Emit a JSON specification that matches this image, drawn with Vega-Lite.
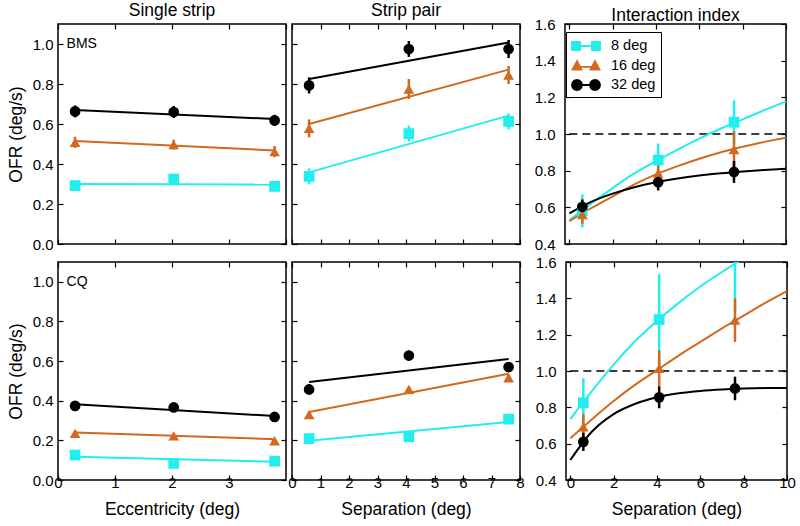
{
  "$schema": "https://vega.github.io/schema/vega-lite/v6.json",
  "padding": {"left": 6, "top": 1, "right": 5, "bottom": 5},
  "datasets": {
    "pts": [
      {"s":"BMS","p":"single","g":"8 deg","x":0.3,"y":0.292,"lo":0.272,"hi":0.312},
      {"s":"BMS","p":"single","g":"8 deg","x":2.03,"y":0.325,"lo":0.305,"hi":0.345},
      {"s":"BMS","p":"single","g":"8 deg","x":3.8,"y":0.288,"lo":0.268,"hi":0.308},
      {"s":"BMS","p":"single","g":"16 deg","x":0.3,"y":0.508,"lo":0.48,"hi":0.536},
      {"s":"BMS","p":"single","g":"16 deg","x":2.03,"y":0.497,"lo":0.472,"hi":0.522},
      {"s":"BMS","p":"single","g":"16 deg","x":3.8,"y":0.462,"lo":0.434,"hi":0.49},
      {"s":"BMS","p":"single","g":"32 deg","x":0.3,"y":0.663,"lo":0.633,"hi":0.693},
      {"s":"BMS","p":"single","g":"32 deg","x":2.03,"y":0.66,"lo":0.63,"hi":0.69},
      {"s":"BMS","p":"single","g":"32 deg","x":3.8,"y":0.618,"lo":0.59,"hi":0.646},
      {"s":"BMS","p":"pair","g":"8 deg","x":0.6,"y":0.338,"lo":0.298,"hi":0.378},
      {"s":"BMS","p":"pair","g":"8 deg","x":4.1,"y":0.552,"lo":0.512,"hi":0.592},
      {"s":"BMS","p":"pair","g":"8 deg","x":7.6,"y":0.613,"lo":0.573,"hi":0.653},
      {"s":"BMS","p":"pair","g":"16 deg","x":0.6,"y":0.578,"lo":0.533,"hi":0.623},
      {"s":"BMS","p":"pair","g":"16 deg","x":4.1,"y":0.775,"lo":0.725,"hi":0.825},
      {"s":"BMS","p":"pair","g":"16 deg","x":7.6,"y":0.845,"lo":0.8,"hi":0.89},
      {"s":"BMS","p":"pair","g":"32 deg","x":0.6,"y":0.793,"lo":0.753,"hi":0.833},
      {"s":"BMS","p":"pair","g":"32 deg","x":4.1,"y":0.975,"lo":0.935,"hi":1.015},
      {"s":"BMS","p":"pair","g":"32 deg","x":7.6,"y":0.975,"lo":0.93,"hi":1.02},
      {"s":"BMS","p":"index","g":"8 deg","x":0.6,"y":0.58,"lo":0.49,"hi":0.67},
      {"s":"BMS","p":"index","g":"8 deg","x":4.1,"y":0.858,"lo":0.768,"hi":0.948},
      {"s":"BMS","p":"index","g":"8 deg","x":7.6,"y":1.064,"lo":0.944,"hi":1.184},
      {"s":"BMS","p":"index","g":"16 deg","x":0.6,"y":0.56,"lo":0.51,"hi":0.61},
      {"s":"BMS","p":"index","g":"16 deg","x":4.1,"y":0.787,"lo":0.727,"hi":0.847},
      {"s":"BMS","p":"index","g":"16 deg","x":7.6,"y":0.915,"lo":0.815,"hi":1.015},
      {"s":"BMS","p":"index","g":"32 deg","x":0.6,"y":0.603,"lo":0.563,"hi":0.643},
      {"s":"BMS","p":"index","g":"32 deg","x":4.1,"y":0.737,"lo":0.692,"hi":0.782},
      {"s":"BMS","p":"index","g":"32 deg","x":7.6,"y":0.793,"lo":0.733,"hi":0.853},
      {"s":"CQ","p":"single","g":"8 deg","x":0.3,"y":0.126,"lo":0.114,"hi":0.138},
      {"s":"CQ","p":"single","g":"8 deg","x":2.03,"y":0.084,"lo":0.072,"hi":0.096},
      {"s":"CQ","p":"single","g":"8 deg","x":3.8,"y":0.095,"lo":0.083,"hi":0.107},
      {"s":"CQ","p":"single","g":"16 deg","x":0.3,"y":0.235,"lo":0.223,"hi":0.247},
      {"s":"CQ","p":"single","g":"16 deg","x":2.03,"y":0.223,"lo":0.211,"hi":0.235},
      {"s":"CQ","p":"single","g":"16 deg","x":3.8,"y":0.198,"lo":0.186,"hi":0.21},
      {"s":"CQ","p":"single","g":"32 deg","x":0.3,"y":0.374,"lo":0.362,"hi":0.386},
      {"s":"CQ","p":"single","g":"32 deg","x":2.03,"y":0.366,"lo":0.354,"hi":0.378},
      {"s":"CQ","p":"single","g":"32 deg","x":3.8,"y":0.318,"lo":0.306,"hi":0.33},
      {"s":"CQ","p":"pair","g":"8 deg","x":0.6,"y":0.209,"lo":0.194,"hi":0.224},
      {"s":"CQ","p":"pair","g":"8 deg","x":4.1,"y":0.218,"lo":0.198,"hi":0.238},
      {"s":"CQ","p":"pair","g":"8 deg","x":7.6,"y":0.307,"lo":0.292,"hi":0.322},
      {"s":"CQ","p":"pair","g":"16 deg","x":0.6,"y":0.33,"lo":0.315,"hi":0.345},
      {"s":"CQ","p":"pair","g":"16 deg","x":4.1,"y":0.457,"lo":0.442,"hi":0.472},
      {"s":"CQ","p":"pair","g":"16 deg","x":7.6,"y":0.516,"lo":0.501,"hi":0.531},
      {"s":"CQ","p":"pair","g":"32 deg","x":0.6,"y":0.457,"lo":0.432,"hi":0.482},
      {"s":"CQ","p":"pair","g":"32 deg","x":4.1,"y":0.628,"lo":0.603,"hi":0.653},
      {"s":"CQ","p":"pair","g":"32 deg","x":7.6,"y":0.57,"lo":0.545,"hi":0.595},
      {"s":"CQ","p":"index","g":"8 deg","x":0.6,"y":0.825,"lo":0.69,"hi":0.96},
      {"s":"CQ","p":"index","g":"8 deg","x":4.1,"y":1.283,"lo":1.033,"hi":1.533},
      {"s":"CQ","p":"index","g":"8 deg","x":7.6,"y":1.63,"lo":1.33,"hi":1.93},
      {"s":"CQ","p":"index","g":"16 deg","x":0.6,"y":0.693,"lo":0.623,"hi":0.763},
      {"s":"CQ","p":"index","g":"16 deg","x":4.1,"y":1.014,"lo":0.914,"hi":1.114},
      {"s":"CQ","p":"index","g":"16 deg","x":7.6,"y":1.28,"lo":1.16,"hi":1.4},
      {"s":"CQ","p":"index","g":"32 deg","x":0.6,"y":0.61,"lo":0.56,"hi":0.66},
      {"s":"CQ","p":"index","g":"32 deg","x":4.1,"y":0.855,"lo":0.795,"hi":0.915},
      {"s":"CQ","p":"index","g":"32 deg","x":7.6,"y":0.904,"lo":0.839,"hi":0.969}
    ],
    "fits": [
      {"s":"BMS","p":"single","g":"8 deg","x":0.3,"y":0.3},
      {"s":"BMS","p":"single","g":"8 deg","x":3.8,"y":0.297},
      {"s":"BMS","p":"single","g":"16 deg","x":0.3,"y":0.515},
      {"s":"BMS","p":"single","g":"16 deg","x":3.8,"y":0.468},
      {"s":"BMS","p":"single","g":"32 deg","x":0.3,"y":0.67},
      {"s":"BMS","p":"single","g":"32 deg","x":3.8,"y":0.625},
      {"s":"BMS","p":"pair","g":"8 deg","x":0.6,"y":0.358},
      {"s":"BMS","p":"pair","g":"8 deg","x":7.6,"y":0.642},
      {"s":"BMS","p":"pair","g":"16 deg","x":0.6,"y":0.6},
      {"s":"BMS","p":"pair","g":"16 deg","x":7.6,"y":0.872},
      {"s":"BMS","p":"pair","g":"32 deg","x":0.6,"y":0.825},
      {"s":"BMS","p":"pair","g":"32 deg","x":7.6,"y":1.008},
      {"s":"CQ","p":"single","g":"8 deg","x":0.3,"y":0.117},
      {"s":"CQ","p":"single","g":"8 deg","x":3.8,"y":0.092},
      {"s":"CQ","p":"single","g":"16 deg","x":0.3,"y":0.24},
      {"s":"CQ","p":"single","g":"16 deg","x":3.8,"y":0.206},
      {"s":"CQ","p":"single","g":"32 deg","x":0.3,"y":0.382},
      {"s":"CQ","p":"single","g":"32 deg","x":3.8,"y":0.323},
      {"s":"CQ","p":"pair","g":"8 deg","x":0.6,"y":0.198},
      {"s":"CQ","p":"pair","g":"8 deg","x":7.6,"y":0.293},
      {"s":"CQ","p":"pair","g":"16 deg","x":0.6,"y":0.343},
      {"s":"CQ","p":"pair","g":"16 deg","x":7.6,"y":0.536},
      {"s":"CQ","p":"pair","g":"32 deg","x":0.6,"y":0.494},
      {"s":"CQ","p":"pair","g":"32 deg","x":7.6,"y":0.611},
      {"s":"BMS","p":"index","g":"8 deg","x":0,"y":0.53},
      {"s":"BMS","p":"index","g":"8 deg","x":1,"y":0.62},
      {"s":"BMS","p":"index","g":"8 deg","x":2,"y":0.705},
      {"s":"BMS","p":"index","g":"8 deg","x":3,"y":0.785},
      {"s":"BMS","p":"index","g":"8 deg","x":4,"y":0.852},
      {"s":"BMS","p":"index","g":"8 deg","x":5,"y":0.915},
      {"s":"BMS","p":"index","g":"8 deg","x":6,"y":0.975},
      {"s":"BMS","p":"index","g":"8 deg","x":7,"y":1.03},
      {"s":"BMS","p":"index","g":"8 deg","x":8,"y":1.08},
      {"s":"BMS","p":"index","g":"8 deg","x":9,"y":1.13},
      {"s":"BMS","p":"index","g":"8 deg","x":10,"y":1.178},
      {"s":"BMS","p":"index","g":"16 deg","x":0,"y":0.525},
      {"s":"BMS","p":"index","g":"16 deg","x":1,"y":0.595},
      {"s":"BMS","p":"index","g":"16 deg","x":2,"y":0.66},
      {"s":"BMS","p":"index","g":"16 deg","x":3,"y":0.725},
      {"s":"BMS","p":"index","g":"16 deg","x":4,"y":0.78},
      {"s":"BMS","p":"index","g":"16 deg","x":5,"y":0.825},
      {"s":"BMS","p":"index","g":"16 deg","x":6,"y":0.865},
      {"s":"BMS","p":"index","g":"16 deg","x":7,"y":0.9},
      {"s":"BMS","p":"index","g":"16 deg","x":8,"y":0.93},
      {"s":"BMS","p":"index","g":"16 deg","x":9,"y":0.957},
      {"s":"BMS","p":"index","g":"16 deg","x":10,"y":0.98},
      {"s":"BMS","p":"index","g":"32 deg","x":0,"y":0.567},
      {"s":"BMS","p":"index","g":"32 deg","x":1,"y":0.63},
      {"s":"BMS","p":"index","g":"32 deg","x":2,"y":0.675},
      {"s":"BMS","p":"index","g":"32 deg","x":3,"y":0.71},
      {"s":"BMS","p":"index","g":"32 deg","x":4,"y":0.737},
      {"s":"BMS","p":"index","g":"32 deg","x":5,"y":0.757},
      {"s":"BMS","p":"index","g":"32 deg","x":6,"y":0.773},
      {"s":"BMS","p":"index","g":"32 deg","x":7,"y":0.786},
      {"s":"BMS","p":"index","g":"32 deg","x":8,"y":0.796},
      {"s":"BMS","p":"index","g":"32 deg","x":9,"y":0.804},
      {"s":"BMS","p":"index","g":"32 deg","x":10,"y":0.81},
      {"s":"CQ","p":"index","g":"8 deg","x":0,"y":0.735},
      {"s":"CQ","p":"index","g":"8 deg","x":1,"y":0.89},
      {"s":"CQ","p":"index","g":"8 deg","x":2,"y":1.035},
      {"s":"CQ","p":"index","g":"8 deg","x":3,"y":1.165},
      {"s":"CQ","p":"index","g":"8 deg","x":4,"y":1.275},
      {"s":"CQ","p":"index","g":"8 deg","x":5,"y":1.375},
      {"s":"CQ","p":"index","g":"8 deg","x":6,"y":1.465},
      {"s":"CQ","p":"index","g":"8 deg","x":7,"y":1.545},
      {"s":"CQ","p":"index","g":"8 deg","x":8,"y":1.62},
      {"s":"CQ","p":"index","g":"16 deg","x":0,"y":0.63},
      {"s":"CQ","p":"index","g":"16 deg","x":1,"y":0.735},
      {"s":"CQ","p":"index","g":"16 deg","x":2,"y":0.835},
      {"s":"CQ","p":"index","g":"16 deg","x":3,"y":0.925},
      {"s":"CQ","p":"index","g":"16 deg","x":4,"y":1.005},
      {"s":"CQ","p":"index","g":"16 deg","x":5,"y":1.085},
      {"s":"CQ","p":"index","g":"16 deg","x":6,"y":1.16},
      {"s":"CQ","p":"index","g":"16 deg","x":7,"y":1.235},
      {"s":"CQ","p":"index","g":"16 deg","x":8,"y":1.305},
      {"s":"CQ","p":"index","g":"16 deg","x":9,"y":1.375},
      {"s":"CQ","p":"index","g":"16 deg","x":10,"y":1.44},
      {"s":"CQ","p":"index","g":"32 deg","x":0,"y":0.51},
      {"s":"CQ","p":"index","g":"32 deg","x":1,"y":0.667},
      {"s":"CQ","p":"index","g":"32 deg","x":2,"y":0.763},
      {"s":"CQ","p":"index","g":"32 deg","x":3,"y":0.82},
      {"s":"CQ","p":"index","g":"32 deg","x":4,"y":0.856},
      {"s":"CQ","p":"index","g":"32 deg","x":5,"y":0.877},
      {"s":"CQ","p":"index","g":"32 deg","x":6,"y":0.89},
      {"s":"CQ","p":"index","g":"32 deg","x":7,"y":0.898},
      {"s":"CQ","p":"index","g":"32 deg","x":8,"y":0.903},
      {"s":"CQ","p":"index","g":"32 deg","x":9,"y":0.906},
      {"s":"CQ","p":"index","g":"32 deg","x":10,"y":0.907}
    ]
  },
  "vconcat": [
    {
      "hconcat": [
        {
          "hconcat": [
            {
              "width": 228, "height": 220, "title": "Single strip",
              "layer": [
                {"data": {"name": "fits"}, "transform": [{"filter": "datum.s==='BMS' && datum.p==='single'"}],
                 "mark": {"type": "line", "strokeWidth": 2, "clip": true},
                 "encoding": {
                   "x": {"field": "x", "type": "quantitative", "scale": {"domain": [0, 4], "nice": false, "zero": false}, "axis": {"orient": "bottom", "values": [0,1,2,3,4], "labels": false, "title": null}},
                   "y": {"field": "y", "type": "quantitative", "scale": {"domain": [0, 1.1], "nice": false, "zero": false}, "axis": {"orient": "left", "values": [0,0.2,0.4,0.6,0.8,1], "format": ".1f", "title": "OFR (deg/s)"}},
                   "color": {"field": "g", "type": "nominal", "scale": {"domain": ["8 deg","16 deg","32 deg"], "range": ["#22EEEE","#D2691E","#000000"]}, "legend": null}}},
                {"data": {"name": "pts"}, "transform": [{"filter": "datum.s==='BMS' && datum.p==='single'"}],
                 "mark": {"type": "rule", "strokeWidth": 2.5, "clip": true},
                 "encoding": {
                   "x": {"field": "x", "type": "quantitative", "axis": {"orient": "top", "values": [0,1,2,3,4], "labels": false, "title": null}},
                   "y": {"field": "lo", "type": "quantitative", "axis": {"orient": "right", "values": [0,0.2,0.4,0.6,0.8,1], "labels": false, "title": null}},
                   "y2": {"field": "hi"},
                   "color": {"field": "g", "type": "nominal", "legend": null}}},
                {"data": {"name": "pts"}, "transform": [{"filter": "datum.s==='BMS' && datum.p==='single'"}],
                 "mark": {"type": "point", "filled": true, "opacity": 1, "size": 115, "clip": true},
                 "encoding": {
                   "x": {"field": "x", "type": "quantitative", "axis": null},
                   "y": {"field": "y", "type": "quantitative", "axis": null},
                   "color": {"field": "g", "type": "nominal", "legend": null},
                   "shape": {"field": "g", "type": "nominal", "scale": {"domain": ["8 deg","16 deg","32 deg"], "range": ["square","triangle-up","circle"]}, "legend": null}}},
                {"data": {"values": [{}]},
                 "mark": {"type": "text", "align": "left", "baseline": "middle", "fontSize": 14, "color": "black"},
                 "encoding": {"x": {"datum": 0.15, "type": "quantitative", "axis": null}, "y": {"datum": 1.0, "type": "quantitative", "axis": null}, "text": {"value": "BMS"}}}
              ],
              "resolve": {"axis": {"x": "independent", "y": "independent"}}
            },
            {
              "width": 228, "height": 220, "title": "Strip pair",
              "layer": [
                {"data": {"name": "fits"}, "transform": [{"filter": "datum.s==='BMS' && datum.p==='pair'"}],
                 "mark": {"type": "line", "strokeWidth": 2, "clip": true},
                 "encoding": {
                   "x": {"field": "x", "type": "quantitative", "scale": {"domain": [0, 8], "nice": false, "zero": false}, "axis": {"orient": "bottom", "values": [0,1,2,3,4,5,6,7,8], "labels": false, "title": null}},
                   "y": {"field": "y", "type": "quantitative", "scale": {"domain": [0, 1.1], "nice": false, "zero": false}, "axis": {"orient": "left", "values": [0,0.2,0.4,0.6,0.8,1], "labels": false, "title": null}},
                   "color": {"field": "g", "type": "nominal", "scale": {"domain": ["8 deg","16 deg","32 deg"], "range": ["#22EEEE","#D2691E","#000000"]}, "legend": null}}},
                {"data": {"name": "pts"}, "transform": [{"filter": "datum.s==='BMS' && datum.p==='pair'"}],
                 "mark": {"type": "rule", "strokeWidth": 2.5, "clip": true},
                 "encoding": {
                   "x": {"field": "x", "type": "quantitative", "axis": {"orient": "top", "values": [0,1,2,3,4,5,6,7,8], "labels": false, "title": null}},
                   "y": {"field": "lo", "type": "quantitative", "axis": {"orient": "right", "values": [0,0.2,0.4,0.6,0.8,1], "labels": false, "title": null}},
                   "y2": {"field": "hi"},
                   "color": {"field": "g", "type": "nominal", "legend": null}}},
                {"data": {"name": "pts"}, "transform": [{"filter": "datum.s==='BMS' && datum.p==='pair'"}],
                 "mark": {"type": "point", "filled": true, "opacity": 1, "size": 115, "clip": true},
                 "encoding": {
                   "x": {"field": "x", "type": "quantitative", "axis": null},
                   "y": {"field": "y", "type": "quantitative", "axis": null},
                   "color": {"field": "g", "type": "nominal", "legend": null},
                   "shape": {"field": "g", "type": "nominal", "scale": {"domain": ["8 deg","16 deg","32 deg"], "range": ["square","triangle-up","circle"]}, "legend": null}}}
              ],
              "resolve": {"axis": {"x": "independent", "y": "independent"}}
            }
          ],
          "spacing": 6, "bounds": "flush",
          "resolve": {"scale": {"color": "independent", "shape": "independent"}, "legend": {"color": "independent", "shape": "independent"}}
        },
        {
          "width": 221, "height": 220, "title": {"text": "Interaction index", "offset": -7},
          "layer": [
            {"data": {"name": "pts"}, "transform": [{"filter": "datum.s==='legend only'"}],
             "mark": {"type": "point", "filled": true, "size": 324},
             "encoding": {
               "x": {"field": "x", "type": "quantitative", "axis": null},
               "y": {"field": "y", "type": "quantitative", "axis": null},
               "color": {"field": "g", "type": "nominal", "scale": {"domain": ["8 deg","16 deg","32 deg"], "range": ["#22EEEE","#D2691E","#000000"]},
                 "legend": {"orient": "none", "legendX": 1, "legendY": 8, "title": null, "padding": 5, "strokeColor": "black", "fillColor": "white",
                            "labelFontSize": 14.5, "labelColor": "black", "labelOffset": 22, "rowPadding": 3.5, "symbolSize": 324, "symbolOpacity": 1, "symbolStrokeWidth": 0,
                            "labelExpr": "datum.label + '  '"}},
               "shape": {"field": "g", "type": "nominal", "scale": {"domain": ["8 deg","16 deg","32 deg"], "range": [
                   "M-1,-0.56H0.11V0.56H-1Z M1.22,-0.56H2.33V0.56H1.22Z M0.07,-0.1H1.27V0.1H0.07Z",
                   "M-0.33,-0.7L0.33,0.55H-1Z M1.67,-0.7L2.33,0.55H1Z M-0.33,0.05H1.67V0.25H-0.33Z",
                   "M0.33,0L0.24,0.33L0,0.58L-0.33,0.67L-0.67,0.58L-0.91,0.33L-1,0L-0.91,-0.33L-0.67,-0.58L-0.33,-0.67L0,-0.58L0.24,-0.33Z M2.33,0L2.24,0.33L2,0.58L1.67,0.67L1.33,0.58L1.09,0.33L1,0L1.09,-0.33L1.33,-0.58L1.67,-0.67L2,-0.58L2.24,-0.33Z M-0.33,-0.1H1.67V0.1H-0.33Z"]},
                 "legend": {"orient": "none", "legendX": 1, "legendY": 8, "title": null, "padding": 5, "strokeColor": "black", "fillColor": "white",
                            "labelFontSize": 14.5, "labelColor": "black", "labelOffset": 22, "rowPadding": 3.5, "symbolSize": 324, "symbolOpacity": 1, "symbolStrokeWidth": 0,
                            "labelExpr": "datum.label + '  '"}}}},
            {"data": {"values": [{}]},
             "mark": {"type": "rule", "strokeDash": [8, 5], "strokeWidth": 1.5, "color": "black"},
             "encoding": {"x": {"datum": 0, "type": "quantitative", "axis": null}, "x2": {"datum": 10}, "y": {"datum": 1, "type": "quantitative", "axis": null}}},
            {"data": {"name": "fits"}, "transform": [{"filter": "datum.s==='BMS' && datum.p==='index'"}],
             "mark": {"type": "line", "strokeWidth": 2, "interpolate": "monotone", "clip": true},
             "encoding": {
               "x": {"field": "x", "type": "quantitative", "scale": {"domain": [-0.2, 10], "nice": false, "zero": false}, "axis": {"orient": "bottom", "values": [0,2,4,6,8,10], "labels": false, "title": null}},
               "y": {"field": "y", "type": "quantitative", "scale": {"domain": [0.4, 1.6], "nice": false, "zero": false}, "axis": {"orient": "left", "values": [0.4,0.6,0.8,1,1.2,1.4,1.6], "format": ".1f", "labelPadding": 15, "title": null}},
               "color": {"field": "g", "type": "nominal", "scale": {"domain": ["8 deg","16 deg","32 deg"], "range": ["#22EEEE","#D2691E","#000000"]}, "legend": null}}},
            {"data": {"name": "pts"}, "transform": [{"filter": "datum.s==='BMS' && datum.p==='index'"}],
             "mark": {"type": "rule", "strokeWidth": 2.5, "clip": true},
             "encoding": {
               "x": {"field": "x", "type": "quantitative", "axis": {"orient": "top", "values": [0,2,4,6,8,10], "labels": false, "title": null}},
               "y": {"field": "lo", "type": "quantitative", "axis": {"orient": "right", "values": [0.4,0.6,0.8,1,1.2,1.4,1.6], "labels": false, "title": null}},
               "y2": {"field": "hi"},
               "color": {"field": "g", "type": "nominal", "scale": {"domain": ["8 deg","16 deg","32 deg"], "range": ["#22EEEE","#D2691E","#000000"]}, "legend": null}}},
            {"data": {"name": "pts"}, "transform": [{"filter": "datum.s==='BMS' && datum.p==='index'"}],
             "mark": {"type": "point", "filled": true, "opacity": 1, "size": 115, "clip": true},
             "encoding": {
               "x": {"field": "x", "type": "quantitative", "axis": null},
               "y": {"field": "y", "type": "quantitative", "axis": null},
               "color": {"field": "g", "type": "nominal", "scale": {"domain": ["8 deg","16 deg","32 deg"], "range": ["#22EEEE","#D2691E","#000000"]}, "legend": null},
               "shape": {"field": "g", "type": "nominal", "scale": {"domain": ["8 deg","16 deg","32 deg"], "range": ["square","triangle-up","circle"]}, "legend": null}}}
          ],
          "resolve": {"axis": {"x": "independent", "y": "independent"}, "scale": {"color": "independent", "shape": "independent"}, "legend": {"color": "independent", "shape": "independent"}}
        }
      ],
      "spacing": 11,
      "resolve": {"scale": {"color": "independent", "shape": "independent"}, "legend": {"color": "independent", "shape": "independent"}}
    },
    {
      "hconcat": [
        {
          "hconcat": [
            {
              "width": 228, "height": 218,
              "layer": [
                {"data": {"name": "fits"}, "transform": [{"filter": "datum.s==='CQ' && datum.p==='single'"}],
                 "mark": {"type": "line", "strokeWidth": 2, "clip": true},
                 "encoding": {
                   "x": {"field": "x", "type": "quantitative", "scale": {"domain": [0, 4], "nice": false, "zero": false}, "axis": {"orient": "bottom", "values": [0,1,2,3], "labelPadding": 0, "titlePadding": 10, "title": "Eccentricity (deg)"}},
                   "y": {"field": "y", "type": "quantitative", "scale": {"domain": [0, 1.1], "nice": false, "zero": false}, "axis": {"orient": "left", "values": [0,0.2,0.4,0.6,0.8,1], "format": ".1f", "title": "OFR (deg/s)"}},
                   "color": {"field": "g", "type": "nominal", "scale": {"domain": ["8 deg","16 deg","32 deg"], "range": ["#22EEEE","#D2691E","#000000"]}, "legend": null}}},
                {"data": {"name": "pts"}, "transform": [{"filter": "datum.s==='CQ' && datum.p==='single'"}],
                 "mark": {"type": "rule", "strokeWidth": 2.5, "clip": true},
                 "encoding": {
                   "x": {"field": "x", "type": "quantitative", "axis": {"orient": "top", "values": [0,1,2,3,4], "labels": false, "title": null}},
                   "y": {"field": "lo", "type": "quantitative", "axis": {"orient": "right", "values": [0,0.2,0.4,0.6,0.8,1], "labels": false, "title": null}},
                   "y2": {"field": "hi"},
                   "color": {"field": "g", "type": "nominal", "legend": null}}},
                {"data": {"name": "pts"}, "transform": [{"filter": "datum.s==='CQ' && datum.p==='single'"}],
                 "mark": {"type": "point", "filled": true, "opacity": 1, "size": 115, "clip": true},
                 "encoding": {
                   "x": {"field": "x", "type": "quantitative", "axis": null},
                   "y": {"field": "y", "type": "quantitative", "axis": null},
                   "color": {"field": "g", "type": "nominal", "legend": null},
                   "shape": {"field": "g", "type": "nominal", "scale": {"domain": ["8 deg","16 deg","32 deg"], "range": ["square","triangle-up","circle"]}, "legend": null}}},
                {"data": {"values": [{}]},
                 "mark": {"type": "text", "align": "left", "baseline": "middle", "fontSize": 14, "color": "black"},
                 "encoding": {"x": {"datum": 0.15, "type": "quantitative", "axis": null}, "y": {"datum": 1.0, "type": "quantitative", "axis": null}, "text": {"value": "CQ"}}}
              ],
              "resolve": {"axis": {"x": "independent", "y": "independent"}}
            },
            {
              "width": 228, "height": 218,
              "layer": [
                {"data": {"name": "fits"}, "transform": [{"filter": "datum.s==='CQ' && datum.p==='pair'"}],
                 "mark": {"type": "line", "strokeWidth": 2, "clip": true},
                 "encoding": {
                   "x": {"field": "x", "type": "quantitative", "scale": {"domain": [0, 8], "nice": false, "zero": false}, "axis": {"orient": "bottom", "values": [0,1,2,3,4,5,6,7,8], "labelPadding": 0, "titlePadding": 10, "title": "Separation (deg)"}},
                   "y": {"field": "y", "type": "quantitative", "scale": {"domain": [0, 1.1], "nice": false, "zero": false}, "axis": {"orient": "left", "values": [0,0.2,0.4,0.6,0.8,1], "labels": false, "title": null}},
                   "color": {"field": "g", "type": "nominal", "scale": {"domain": ["8 deg","16 deg","32 deg"], "range": ["#22EEEE","#D2691E","#000000"]}, "legend": null}}},
                {"data": {"name": "pts"}, "transform": [{"filter": "datum.s==='CQ' && datum.p==='pair'"}],
                 "mark": {"type": "rule", "strokeWidth": 2.5, "clip": true},
                 "encoding": {
                   "x": {"field": "x", "type": "quantitative", "axis": {"orient": "top", "values": [0,1,2,3,4,5,6,7,8], "labels": false, "title": null}},
                   "y": {"field": "lo", "type": "quantitative", "axis": {"orient": "right", "values": [0,0.2,0.4,0.6,0.8,1], "labels": false, "title": null}},
                   "y2": {"field": "hi"},
                   "color": {"field": "g", "type": "nominal", "legend": null}}},
                {"data": {"name": "pts"}, "transform": [{"filter": "datum.s==='CQ' && datum.p==='pair'"}],
                 "mark": {"type": "point", "filled": true, "opacity": 1, "size": 115, "clip": true},
                 "encoding": {
                   "x": {"field": "x", "type": "quantitative", "axis": null},
                   "y": {"field": "y", "type": "quantitative", "axis": null},
                   "color": {"field": "g", "type": "nominal", "legend": null},
                   "shape": {"field": "g", "type": "nominal", "scale": {"domain": ["8 deg","16 deg","32 deg"], "range": ["square","triangle-up","circle"]}, "legend": null}}}
              ],
              "resolve": {"axis": {"x": "independent", "y": "independent"}}
            }
          ],
          "spacing": 6, "bounds": "flush",
          "resolve": {"scale": {"color": "independent", "shape": "independent"}, "legend": {"color": "independent", "shape": "independent"}}
        },
        {
          "width": 221, "height": 218,
          "layer": [
            {"data": {"values": [{}]},
             "mark": {"type": "rule", "strokeDash": [8, 5], "strokeWidth": 1.5, "color": "black"},
             "encoding": {"x": {"datum": 0, "type": "quantitative", "axis": null}, "x2": {"datum": 10}, "y": {"datum": 1, "type": "quantitative", "axis": null}}},
            {"data": {"name": "fits"}, "transform": [{"filter": "datum.s==='CQ' && datum.p==='index'"}],
             "mark": {"type": "line", "strokeWidth": 2, "interpolate": "monotone", "clip": true},
             "encoding": {
               "x": {"field": "x", "type": "quantitative", "scale": {"domain": [-0.2, 10], "nice": false, "zero": false}, "axis": {"orient": "bottom", "values": [0,2,4,6,8,10], "labelPadding": 0, "titlePadding": 10, "title": "Separation (deg)"}},
               "y": {"field": "y", "type": "quantitative", "scale": {"domain": [0.4, 1.6], "nice": false, "zero": false}, "axis": {"orient": "left", "values": [0.4,0.6,0.8,1,1.2,1.4,1.6], "format": ".1f", "labelPadding": 15, "title": null}},
               "color": {"field": "g", "type": "nominal", "scale": {"domain": ["8 deg","16 deg","32 deg"], "range": ["#22EEEE","#D2691E","#000000"]}, "legend": null}}},
            {"data": {"name": "pts"}, "transform": [{"filter": "datum.s==='CQ' && datum.p==='index'"}],
             "mark": {"type": "rule", "strokeWidth": 2.5, "clip": true},
             "encoding": {
               "x": {"field": "x", "type": "quantitative", "axis": {"orient": "top", "values": [0,2,4,6,8,10], "labels": false, "title": null}},
               "y": {"field": "lo", "type": "quantitative", "axis": {"orient": "right", "values": [0.4,0.6,0.8,1,1.2,1.4,1.6], "labels": false, "title": null}},
               "y2": {"field": "hi"},
               "color": {"field": "g", "type": "nominal", "legend": null}}},
            {"data": {"name": "pts"}, "transform": [{"filter": "datum.s==='CQ' && datum.p==='index'"}],
             "mark": {"type": "point", "filled": true, "opacity": 1, "size": 115, "clip": true},
             "encoding": {
               "x": {"field": "x", "type": "quantitative", "axis": null},
               "y": {"field": "y", "type": "quantitative", "axis": null},
               "color": {"field": "g", "type": "nominal", "legend": null},
               "shape": {"field": "g", "type": "nominal", "scale": {"domain": ["8 deg","16 deg","32 deg"], "range": ["square","triangle-up","circle"]}, "legend": null}}}
          ],
          "resolve": {"axis": {"x": "independent", "y": "independent"}}
        }
      ],
      "spacing": 9,
      "resolve": {"scale": {"color": "independent", "shape": "independent"}, "legend": {"color": "independent", "shape": "independent"}}
    }
  ],
  "spacing": 1,
  "resolve": {"scale": {"color": "independent", "shape": "independent"}, "legend": {"color": "independent", "shape": "independent"}},
  "config": {
    "font": "Liberation Sans",
    "background": "white",
    "view": {"stroke": "black", "strokeWidth": 1.5},
    "axis": {"domain": false, "grid": false, "ticks": true, "tickColor": "black", "tickWidth": 1.2, "tickSize": -5,
             "labelFontSize": 15, "labelColor": "black", "labelPadding": 10, "labelFlush": false, "labelOverlap": false,
             "titleFontSize": 17.5, "titleFontWeight": "normal", "titleColor": "black", "titlePadding": 7},
    "title": {"fontSize": 17.5, "fontWeight": "normal", "color": "black", "offset": 0}
  }
}
